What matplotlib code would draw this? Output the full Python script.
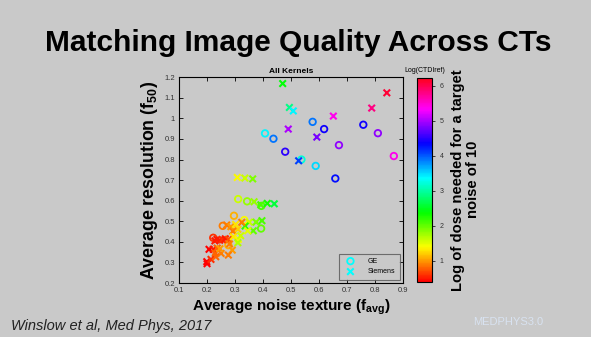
import numpy as np
import matplotlib
matplotlib.use('Agg')
import matplotlib.pyplot as plt
from matplotlib.colors import Normalize

# GE scanners (circles): noise texture, resolution, log dose
ge_favg = [0.407, 0.437, 0.577, 0.618, 0.758, 0.810, 0.671, 0.479, 0.537, 0.588, 0.867,
           0.658, 0.311, 0.343, 0.394, 0.296, 0.333, 0.393, 0.256, 0.222, 0.276]
ge_f50 = [0.927, 0.901, 0.983, 0.948, 0.969, 0.928, 0.870, 0.838, 0.800, 0.769, 0.817,
          0.708, 0.608, 0.597, 0.575, 0.527, 0.506, 0.465, 0.478, 0.420, 0.384]
ge_dose = [3.4, 3.9, 3.9, 4.4, 4.4, 4.9, 4.9, 4.5, 3.2, 3.5, 5.4,
           4.3, 1.6, 1.8, 2.1, 1.1, 1.4, 2.0, 0.9, 0.6, 1.1]

# Siemens scanners (x)
sie_favg = [0.470, 0.842, 0.494, 0.508, 0.788, 0.651, 0.490, 0.592, 0.527,
            0.308, 0.335, 0.363, 0.368, 0.392, 0.415, 0.440,
            0.351, 0.375, 0.396, 0.365, 0.336, 0.345, 0.270, 0.285, 0.302, 0.324,
            0.310, 0.292, 0.235, 0.245, 0.255, 0.265, 0.277, 0.228, 0.294, 0.312,
            0.310, 0.320, 0.280, 0.207, 0.222, 0.236, 0.229, 0.250, 0.290, 0.276,
            0.199, 0.200, 0.214, 0.231, 0.246]
sie_f50 = [1.169, 1.124, 1.053, 1.036, 1.050, 1.011, 0.948, 0.909, 0.794,
           0.713, 0.710, 0.706, 0.595, 0.580, 0.587, 0.585,
           0.496, 0.496, 0.503, 0.454, 0.477, 0.454, 0.482, 0.474, 0.485, 0.495,
           0.461, 0.452, 0.412, 0.408, 0.410, 0.415, 0.413, 0.405, 0.425, 0.412,
           0.396, 0.430, 0.390, 0.364, 0.364, 0.370, 0.344, 0.344, 0.360, 0.336,
           0.304, 0.294, 0.315, 0.328, 0.367]
sie_dose = [2.4, 6.1, 2.9, 3.4, 5.8, 5.4, 5.0, 4.8, 4.1,
            1.4, 1.6, 1.9, 1.8, 2.1, 2.3, 2.6,
            1.6, 1.9, 2.1, 2.0, 2.2, 1.5, 0.9, 1.0, 1.3, 0.9,
            1.2, 0.9, 0.5, 0.5, 0.6, 0.5, 0.7, 0.5, 1.3, 1.4,
            1.7, 1.6, 0.9, 0.4, 0.5, 0.8, 0.8, 0.9, 1.0, 0.9,
            0.4, 0.4, 0.6, 0.8, 1.0]

plt.rcParams['font.family'] = ['Liberation Sans', 'DejaVu Sans']
plt.rcParams['mathtext.fontset'] = 'custom'
plt.rcParams['mathtext.rm'] = 'Liberation Sans'
plt.rcParams['mathtext.bf'] = 'Liberation Sans:bold'

bg = '#c9c9c9'
fig = plt.figure(figsize=(5.91, 3.37), dpi=100, facecolor=bg)

fig.text(0.505, 0.872, 'Matching Image Quality Across CTs', ha='center', va='center',
         fontsize=21.5, fontweight='bold')

ax = fig.add_axes([0.303, 0.160, 0.379, 0.611])
ax.set_facecolor(bg)
norm = Normalize(vmin=0.4, vmax=6.22)
cmap = plt.get_cmap('hsv')

ax.scatter(ge_favg, ge_f50, s=22, marker='o', facecolors='none',
           edgecolors=cmap(norm(ge_dose)), linewidths=1.3, label='GE')
sc = ax.scatter(sie_favg, sie_f50, s=22, marker='x', c=sie_dose, cmap=cmap, norm=norm,
                linewidths=1.5, label='Siemens')

ax.set_xlim(0.1, 0.9)
ax.set_ylim(0.2, 1.2)
ax.set_xticks(np.arange(0.1, 0.91, 0.1))
ax.set_yticks(np.arange(0.2, 1.21, 0.1))
ax.set_xticklabels(['0.1', '0.2', '0.3', '0.4', '0.5', '0.6', '0.7', '0.8', '0.9'])
ax.set_yticklabels(['0.2', '0.3', '0.4', '0.5', '0.6', '0.7', '0.8', '0.9', '1', '1.1', '1.2'])
ax.tick_params(direction='in', top=True, right=True, labelsize=5.5, length=3,
               width=0.6, labelcolor='#333333', pad=3)
for sp in ax.spines.values():
    sp.set_linewidth(0.8)
ax.set_title('All Kernels', fontsize=6, fontweight='bold', pad=3)
ax.set_xlabel('Average noise texture (f$_{\\mathbf{avg}}$)', fontsize=11, fontweight='bold', labelpad=2)
ax.set_ylabel('Average resolution (f$_{\\mathbf{50}}$)', fontsize=12.8, fontweight='bold', labelpad=3)

leg = ax.legend(loc='lower right', fontsize=5, frameon=True, fancybox=False,
                borderpad=0.6, handletextpad=1.5, labelspacing=0.5)
leg.get_frame().set_facecolor(bg)
leg.get_frame().set_edgecolor('#555555')
leg.get_frame().set_linewidth(0.8)
for h in leg.legend_handles:
    h.set_color('cyan')
leg.legend_handles[0].set_facecolor('none')

cax = fig.add_axes([0.706, 0.164, 0.0254, 0.605])
cb = fig.colorbar(sc, cax=cax)
cb.set_ticks([1, 2, 3, 4, 5, 6])
cb.ax.tick_params(labelsize=5, length=2, width=0.5, labelcolor='#333333')
cb.outline.set_linewidth(0.8)
cax.set_title('Log(CTDIref)', fontsize=5, pad=4)
cb.set_label('Log of dose needed for a target\nnoise of 10', fontsize=10.6, fontweight='bold',
             labelpad=5, linespacing=1.15)

fig.text(0.018, 0.012, 'Winslow et al, Med Phys, 2017', fontsize=10.5, style='italic',
         color='#222222', ha='left', va='bottom')
fig.text(0.86, 0.03, 'MEDPHYS3.0', fontsize=8, color='#d8e2f0', ha='center', va='bottom')

fig.savefig('out.png', dpi=100, facecolor=bg)
